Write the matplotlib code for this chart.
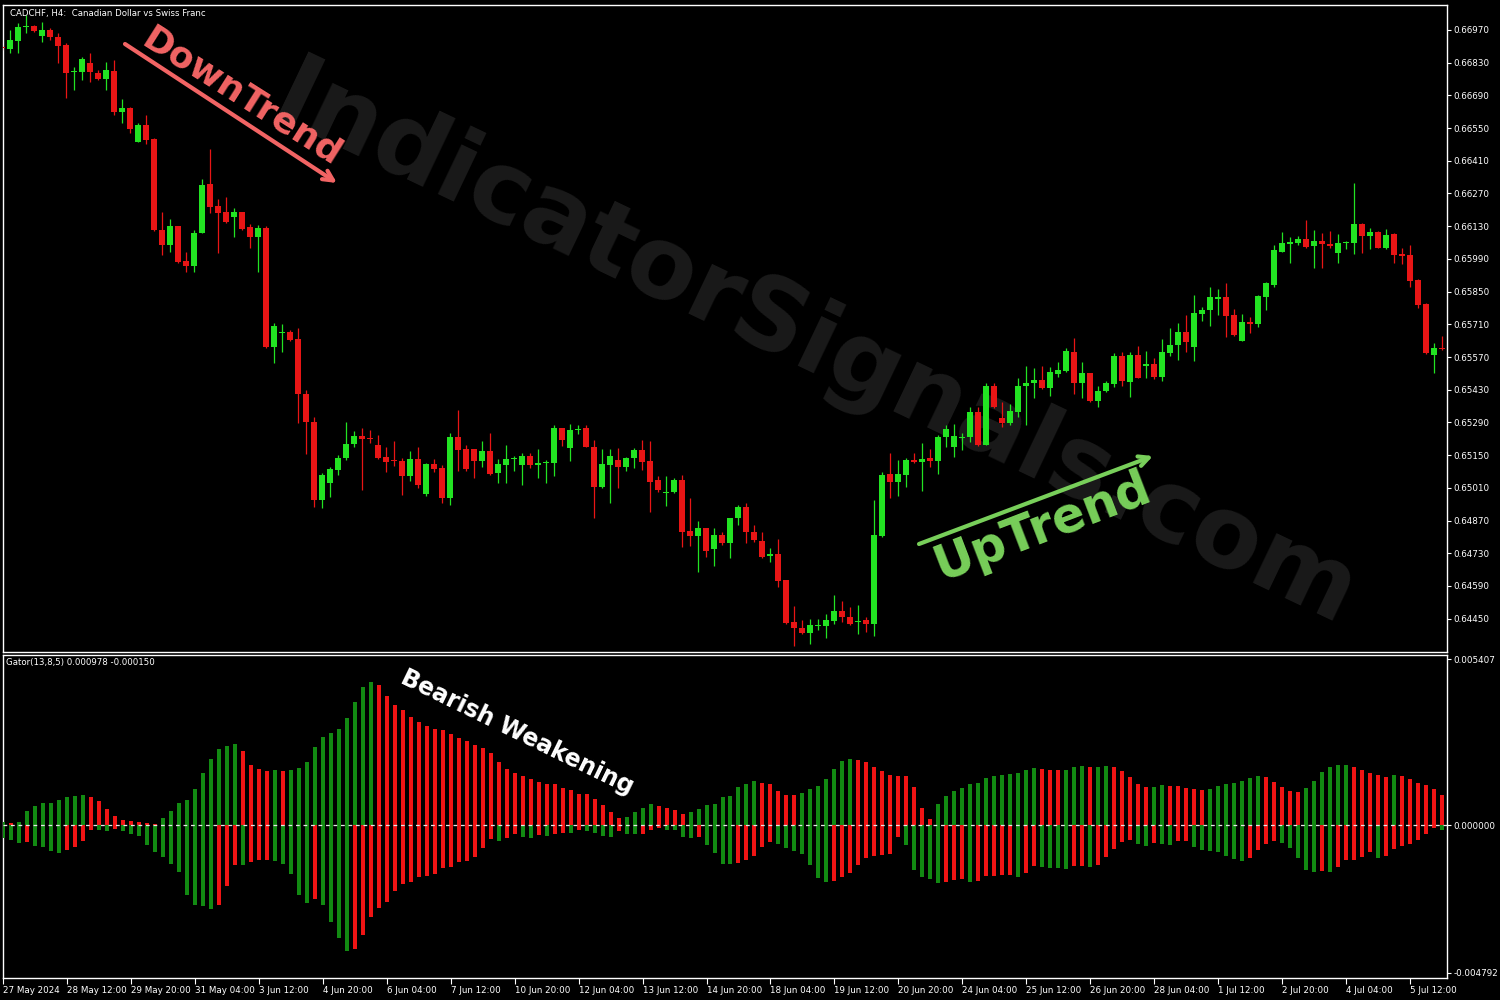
import matplotlib
matplotlib.use("Agg")
import matplotlib.pyplot as plt
import numpy as np

plt.rcParams['font.family'] = ['DejaVu Sans']

# ---------------- data ----------------
x_tick_labels = ['27 May 2024', '28 May 12:00', '29 May 20:00', '31 May 04:00', '3 Jun 12:00',
                 '4 Jun 20:00', '6 Jun 04:00', '7 Jun 12:00', '10 Jun 20:00', '12 Jun 04:00',
                 '13 Jun 12:00', '14 Jun 20:00', '18 Jun 04:00', '19 Jun 12:00', '20 Jun 20:00',
                 '24 Jun 04:00', '25 Jun 12:00', '26 Jun 20:00', '28 Jun 04:00', '1 Jul 12:00',
                 '2 Jul 20:00', '4 Jul 04:00', '5 Jul 12:00']
price_ticks = [0.66970, 0.66830, 0.66690, 0.66550, 0.66410, 0.66270, 0.66130, 0.65990, 0.65850,
               0.65710, 0.65570, 0.65430, 0.65290, 0.65150, 0.65010, 0.64870, 0.64730, 0.64590, 0.64450]
gator_ticks = [0.005407, 0.0, -0.004792]
gator_tick_labels = ['0.005407', '0.000000', '-0.004792']

opens = [0.66897,
 0.66888, 0.66923, 0.66982, 0.66987, 0.66944, 0.66970, 0.66940, 0.66905, 0.66790, 0.66790,
 0.66828, 0.66786, 0.66760, 0.66794, 0.66619, 0.66636, 0.66490, 0.66563, 0.66503, 0.66114,
 0.66049, 0.66131, 0.65981, 0.65960, 0.66101, 0.66310, 0.66216, 0.66191, 0.66169, 0.66191,
 0.66126, 0.66084, 0.66122, 0.65613, 0.65673, 0.65677, 0.65647, 0.65412, 0.65292, 0.64958,
 0.65031, 0.65086, 0.65138, 0.65198, 0.65232, 0.65223, 0.65193, 0.65142, 0.65129, 0.65125,
 0.65061, 0.65134, 0.64984, 0.65112, 0.65095, 0.64967, 0.65228, 0.65176, 0.65176, 0.65125,
 0.65168, 0.65074, 0.65108, 0.65134, 0.65108, 0.65146, 0.65108, 0.65116, 0.65116, 0.65266,
 0.65181, 0.65258, 0.65266, 0.65185, 0.65014, 0.65108, 0.65129, 0.65099, 0.65138, 0.65172,
 0.65125, 0.65044, 0.64988, 0.64992, 0.65044, 0.64825, 0.64804, 0.64838, 0.64748, 0.64808,
 0.64774, 0.64881, 0.64928, 0.64821, 0.64782, 0.64718, 0.64727, 0.64616, 0.64436, 0.64410,
 0.64389, 0.64419, 0.64419, 0.64440, 0.64483, 0.64457, 0.64436, 0.64444, 0.64427, 0.64804,
 0.65069, 0.65035, 0.65065, 0.65129, 0.65121, 0.65138, 0.65125, 0.65228, 0.65185, 0.65223,
 0.65228, 0.65335, 0.65193, 0.65446, 0.65309, 0.65288, 0.65335, 0.65446, 0.65459, 0.65472,
 0.65437, 0.65497, 0.65510, 0.65591, 0.65459, 0.65502, 0.65382, 0.65425, 0.65454, 0.65574,
 0.65463, 0.65579, 0.65532, 0.65540, 0.65484, 0.65587, 0.65621, 0.65677, 0.65613, 0.65754,
 0.65771, 0.65818, 0.65827, 0.65750, 0.65639, 0.65720, 0.65711, 0.65827, 0.65878, 0.66019,
 0.66054, 0.66058, 0.66075, 0.66045, 0.66067, 0.66054, 0.66015, 0.66058, 0.66058, 0.66139,
 0.66088, 0.66105, 0.66037, 0.66097, 0.66011, 0.66007, 0.65900, 0.65797, 0.65579, 0.65609]

highs = [0.66905,
 0.66970, 0.67000, 0.67034, 0.66991, 0.67004, 0.66978, 0.66957, 0.66914, 0.66811, 0.66854,
 0.66871, 0.66798, 0.66833, 0.66841, 0.66674, 0.66640, 0.66572, 0.66606, 0.66507, 0.66191,
 0.66161, 0.66131, 0.66019, 0.66114, 0.66332, 0.66460, 0.66246, 0.66255, 0.66208, 0.66191,
 0.66139, 0.66135, 0.66131, 0.65716, 0.65711, 0.65686, 0.65694, 0.65429, 0.65313, 0.65074,
 0.65099, 0.65151, 0.65292, 0.65253, 0.65266, 0.65258, 0.65236, 0.65185, 0.65211, 0.65138,
 0.65168, 0.65185, 0.65116, 0.65134, 0.65108, 0.65245, 0.65343, 0.65193, 0.65176, 0.65211,
 0.65245, 0.65134, 0.65193, 0.65146, 0.65159, 0.65159, 0.65176, 0.65129, 0.65279, 0.65266,
 0.65283, 0.65279, 0.65279, 0.65215, 0.65176, 0.65176, 0.65181, 0.65142, 0.65181, 0.65215,
 0.65211, 0.65061, 0.65061, 0.65052, 0.65065, 0.64967, 0.64868, 0.64838, 0.64838, 0.64821,
 0.64881, 0.64937, 0.64945, 0.64851, 0.64821, 0.64753, 0.64791, 0.64616, 0.64504, 0.64444,
 0.64449, 0.64449, 0.64470, 0.64551, 0.64526, 0.64500, 0.64509, 0.64457, 0.64958, 0.65078,
 0.65159, 0.65129, 0.65138, 0.65159, 0.65202, 0.65176, 0.65236, 0.65279, 0.65283, 0.65245,
 0.65356, 0.65356, 0.65459, 0.65459, 0.65377, 0.65369, 0.65480, 0.65532, 0.65523, 0.65532,
 0.65527, 0.65549, 0.65609, 0.65651, 0.65549, 0.65502, 0.65446, 0.65467, 0.65587, 0.65591,
 0.65591, 0.65617, 0.65596, 0.65566, 0.65647, 0.65694, 0.65716, 0.65750, 0.65835, 0.65784,
 0.65870, 0.65861, 0.65887, 0.65776, 0.65754, 0.65741, 0.65835, 0.65891, 0.66049, 0.66105,
 0.66084, 0.66088, 0.66156, 0.66114, 0.66101, 0.66109, 0.66097, 0.66067, 0.66315, 0.66144,
 0.66122, 0.66109, 0.66118, 0.66101, 0.66037, 0.66049, 0.65904, 0.65801, 0.65630, 0.65660]

lows = [0.66884,
 0.66871, 0.66871, 0.66957, 0.66961, 0.66918, 0.66927, 0.66828, 0.66679, 0.66713, 0.66756,
 0.66747, 0.66756, 0.66713, 0.66606, 0.66572, 0.66529, 0.66490, 0.66482, 0.66109, 0.66007,
 0.66019, 0.65972, 0.65934, 0.65934, 0.66101, 0.66186, 0.66015, 0.66144, 0.66084, 0.66114,
 0.66037, 0.65934, 0.65609, 0.65544, 0.65591, 0.65639, 0.65288, 0.65155, 0.64928, 0.64924,
 0.64971, 0.65065, 0.65129, 0.65185, 0.65001, 0.65202, 0.65134, 0.65078, 0.65104, 0.64979,
 0.65039, 0.65009, 0.64975, 0.65078, 0.64945, 0.64937, 0.65082, 0.65082, 0.65052, 0.65099,
 0.65065, 0.65031, 0.65031, 0.65082, 0.65022, 0.65095, 0.65052, 0.65031, 0.65061, 0.65189,
 0.65125, 0.65240, 0.65185, 0.64881, 0.65009, 0.64945, 0.65009, 0.65082, 0.65095, 0.65086,
 0.64907, 0.64992, 0.64932, 0.64988, 0.64757, 0.64761, 0.64650, 0.64714, 0.64676, 0.64765,
 0.64710, 0.64851, 0.64774, 0.64779, 0.64710, 0.64693, 0.64586, 0.64427, 0.64333, 0.64385,
 0.64342, 0.64402, 0.64367, 0.64427, 0.64436, 0.64423, 0.64385, 0.64393, 0.64376, 0.64800,
 0.64967, 0.64975, 0.65014, 0.65116, 0.64997, 0.65099, 0.65069, 0.65185, 0.65142, 0.65172,
 0.65206, 0.65189, 0.65193, 0.65352, 0.65270, 0.65279, 0.65313, 0.65279, 0.65395, 0.65433,
 0.65403, 0.65484, 0.65506, 0.65412, 0.65395, 0.65377, 0.65356, 0.65420, 0.65442, 0.65446,
 0.65399, 0.65480, 0.65480, 0.65476, 0.65467, 0.65574, 0.65557, 0.65591, 0.65553, 0.65724,
 0.65703, 0.65750, 0.65656, 0.65660, 0.65639, 0.65673, 0.65698, 0.65771, 0.65870, 0.66019,
 0.65972, 0.66049, 0.66037, 0.65951, 0.65951, 0.66037, 0.65972, 0.66032, 0.66011, 0.66015,
 0.66032, 0.66037, 0.66032, 0.65972, 0.65968, 0.65870, 0.65780, 0.65583, 0.65502, 0.65600]

closes = [0.66893,
 0.66927, 0.66982, 0.66987, 0.66965, 0.66970, 0.66940, 0.66901, 0.66786, 0.66794, 0.66846,
 0.66790, 0.66760, 0.66798, 0.66619, 0.66636, 0.66546, 0.66563, 0.66499, 0.66114, 0.66049,
 0.66131, 0.65977, 0.65960, 0.66101, 0.66306, 0.66212, 0.66186, 0.66148, 0.66191, 0.66118,
 0.66084, 0.66122, 0.65613, 0.65703, 0.65677, 0.65643, 0.65412, 0.65292, 0.64958, 0.65065,
 0.65091, 0.65138, 0.65198, 0.65232, 0.65219, 0.65219, 0.65138, 0.65121, 0.65125, 0.65061,
 0.65134, 0.65022, 0.65112, 0.65091, 0.64967, 0.65228, 0.65172, 0.65091, 0.65125, 0.65168,
 0.65069, 0.65112, 0.65134, 0.65138, 0.65146, 0.65108, 0.65116, 0.65121, 0.65266, 0.65215,
 0.65258, 0.65262, 0.65185, 0.65014, 0.65112, 0.65146, 0.65099, 0.65138, 0.65172, 0.65121,
 0.65035, 0.65001, 0.64992, 0.65044, 0.64821, 0.64804, 0.64838, 0.64740, 0.64808, 0.64774,
 0.64881, 0.64928, 0.64821, 0.64787, 0.64714, 0.64727, 0.64611, 0.64432, 0.64410, 0.64389,
 0.64423, 0.64423, 0.64444, 0.64483, 0.64457, 0.64427, 0.64440, 0.64427, 0.64808, 0.65065,
 0.65035, 0.65069, 0.65129, 0.65121, 0.65134, 0.65125, 0.65228, 0.65262, 0.65232, 0.65228,
 0.65335, 0.65193, 0.65446, 0.65356, 0.65288, 0.65339, 0.65446, 0.65459, 0.65472, 0.65437,
 0.65506, 0.65514, 0.65596, 0.65459, 0.65502, 0.65382, 0.65425, 0.65459, 0.65574, 0.65467,
 0.65579, 0.65480, 0.65540, 0.65484, 0.65591, 0.65621, 0.65677, 0.65634, 0.65758, 0.65771,
 0.65827, 0.65827, 0.65746, 0.65664, 0.65720, 0.65711, 0.65831, 0.65887, 0.66028, 0.66058,
 0.66062, 0.66075, 0.66041, 0.66067, 0.66054, 0.66045, 0.66058, 0.66062, 0.66139, 0.66088,
 0.66105, 0.66037, 0.66092, 0.66007, 0.66002, 0.65895, 0.65793, 0.65587, 0.65609, 0.65604]

gator_upper = [0.000114,
 0.000065, 0.000120, 0.000478, 0.000618, 0.000715, 0.000725, 0.000813, 0.000910, 0.000969, 0.000975,
 0.000910, 0.000787, 0.000520, 0.000299, 0.000163, 0.000130, 0.000124, 0.000065, 0.000055, 0.000250,
 0.000481, 0.000715, 0.000813, 0.001170, 0.001716, 0.002168, 0.002470, 0.002587, 0.002655, 0.002405,
 0.001950, 0.001820, 0.001755, 0.001804, 0.001762, 0.001797, 0.001853, 0.002070, 0.002558, 0.002883,
 0.003013, 0.003143, 0.003500, 0.004020, 0.004508, 0.004670, 0.004550, 0.004193, 0.003900, 0.003738,
 0.003510, 0.003357, 0.003227, 0.003130, 0.003088, 0.002958, 0.002850, 0.002740, 0.002600, 0.002503,
 0.002340, 0.002057, 0.001820, 0.001713, 0.001602, 0.001495, 0.001407, 0.001355, 0.001333, 0.001225,
 0.001147, 0.001030, 0.001008, 0.000868, 0.000650, 0.000423, 0.000228, 0.000276, 0.000445, 0.000553,
 0.000705, 0.000627, 0.000553, 0.000510, 0.000358, 0.000423, 0.000520, 0.000650, 0.000683, 0.000910,
 0.000959, 0.001235, 0.001333, 0.001430, 0.001365, 0.001333, 0.001105, 0.000998, 0.000975, 0.001040,
 0.001170, 0.001268, 0.001495, 0.001820, 0.002080, 0.002145, 0.002113, 0.002048, 0.001885, 0.001755,
 0.001625, 0.001609, 0.001593, 0.001235, 0.000553, 0.000195, 0.000683, 0.000943, 0.001105, 0.001203,
 0.001333, 0.001365, 0.001528, 0.001593, 0.001625, 0.001658, 0.001690, 0.001788, 0.001853, 0.001846,
 0.001804, 0.001788, 0.001804, 0.001885, 0.001918, 0.001885, 0.001901, 0.001918, 0.001911, 0.001755,
 0.001560, 0.001333, 0.001235, 0.001251, 0.001300, 0.001284, 0.001268, 0.001203, 0.001170, 0.001138,
 0.001170, 0.001268, 0.001333, 0.001365, 0.001430, 0.001528, 0.001593, 0.001560, 0.001398, 0.001235,
 0.001105, 0.001095, 0.001203, 0.001430, 0.001723, 0.001885, 0.001950, 0.001960, 0.001885, 0.001788,
 0.001690, 0.001625, 0.001560, 0.001625, 0.001593, 0.001518, 0.001365, 0.001300, 0.001170, 0.000978]

gator_lower = [-0.000423,
 -0.000465, -0.000575, -0.000530, -0.000683, -0.000705, -0.000835, -0.000900, -0.000803, -0.000705, -0.000510,
 -0.000146, -0.000163, -0.000185, -0.000130, -0.000185, -0.000270, -0.000358, -0.000640, -0.000868, -0.001030,
 -0.001245, -0.001528, -0.002265, -0.002590, -0.002600, -0.002698, -0.002590, -0.001973, -0.001290, -0.001300,
 -0.001203, -0.001138, -0.001121, -0.001160, -0.001268, -0.001570, -0.002265, -0.002525, -0.002373, -0.002590,
 -0.003130, -0.003650, -0.004063, -0.003998, -0.003543, -0.002980, -0.002675, -0.002480, -0.002113, -0.001895,
 -0.001830, -0.001680, -0.001648, -0.001570, -0.001375, -0.001355, -0.001203, -0.001160, -0.001030, -0.000748,
 -0.000455, -0.000510, -0.000400, -0.000293, -0.000380, -0.000423, -0.000325, -0.000332, -0.000293, -0.000237,
 -0.000250, -0.000153, -0.000185, -0.000250, -0.000348, -0.000380, -0.000185, -0.000270, -0.000293, -0.000286,
 -0.000153, -0.000098, -0.000153, -0.000163, -0.000380, -0.000423, -0.000390, -0.000640, -0.000887, -0.001245,
 -0.001268, -0.001225, -0.001138, -0.000998, -0.000705, -0.000543, -0.000608, -0.000738, -0.000835, -0.000933,
 -0.001290, -0.001713, -0.001843, -0.001810, -0.001680, -0.001550, -0.001290, -0.001063, -0.000998, -0.000965,
 -0.000933, -0.000380, -0.000640, -0.001453, -0.001680, -0.001745, -0.001875, -0.001843, -0.001778, -0.001745,
 -0.001843, -0.001810, -0.001648, -0.001635, -0.001625, -0.001619, -0.001680, -0.001550, -0.001323, -0.001355,
 -0.001388, -0.001398, -0.001420, -0.001323, -0.001316, -0.001355, -0.001290, -0.001030, -0.000770, -0.000530,
 -0.000478, -0.000608, -0.000673, -0.000575, -0.000608, -0.000640, -0.000510, -0.000504, -0.000705, -0.000803,
 -0.000835, -0.000868, -0.000998, -0.001082, -0.001160, -0.001063, -0.000803, -0.000608, -0.000510, -0.000575,
 -0.000738, -0.001063, -0.001453, -0.001518, -0.001485, -0.001528, -0.001355, -0.001128, -0.001121, -0.001030,
 -0.000868, -0.001063, -0.000998, -0.000770, -0.000673, -0.000608, -0.000478, -0.000283, -0.000088, -0.000150]

# ---------------- style ----------------
BG = 'black'
CANDLE_UP = '#22e322'
CANDLE_DN = '#e81515'
GATOR_UP = '#128a12'
GATOR_DN = '#f01414'
W, H = 1500, 1000

def fp(px, py):
    return (px / W, 1 - py / H)

fig = plt.figure(figsize=(15, 10), dpi=100, facecolor=BG)
ax1 = fig.add_axes([3 / W, 1 - 652 / H, 1444 / W, 647 / H], facecolor=BG)
ax2 = fig.add_axes([3 / W, 1 - 978 / H, 1444 / W, 323 / H], facecolor=BG)

n = len(opens)
xs = np.arange(n) - 1
o = np.array(opens); h = np.array(highs); l = np.array(lows); c = np.array(closes)
is_up = c >= o
ccol = np.where(is_up, CANDLE_UP, CANDLE_DN)

ax1.vlines(xs, l, h, colors=ccol, linewidth=0.9, zorder=3)
bottom = np.minimum(o, c)
height = np.maximum(np.abs(c - o), 0.00004)
ax1.bar(xs, height, bottom=bottom, width=0.66, color=ccol, linewidth=0, zorder=4)

ax1.set_xlim(-0.875, 179.625)
ax1.set_ylim(0.643074, 0.670766)
ax1.yaxis.tick_right()
ax1.set_yticks(price_ticks)
ax1.set_yticklabels(['%.5f' % v for v in price_ticks])
ax1.tick_params(axis='y', colors='white', labelsize=6.3, length=3, width=0.8, pad=1.5, direction='out')
ax1.set_xticks([])
for s in ax1.spines.values():
    s.set_color('white'); s.set_linewidth(1)

# ---------------- gator ----------------
gu = np.array(gator_upper); gd = np.array(gator_lower)
cu = [GATOR_UP if (i == 0 or gu[i] > gu[i - 1]) else GATOR_DN for i in range(n)]
cd = [GATOR_UP if (i == 0 or abs(gd[i]) > abs(gd[i - 1])) else GATOR_DN for i in range(n)]
ax2.bar(xs, gu, width=0.5, color=cu, linewidth=0, zorder=3)
ax2.bar(xs, gd, width=0.5, color=cd, linewidth=0, zorder=3)
ax2.axhline(0, color='#e8e8e8', linewidth=0.9, dashes=(3, 3), zorder=4)
ax2.set_xlim(-0.875, 179.625)
ax2.set_ylim(-0.004955, 0.005537)
ax2.yaxis.tick_right()
ax2.set_yticks(gator_ticks)
ax2.set_yticklabels(gator_tick_labels)
ax2.tick_params(axis='y', colors='white', labelsize=6.3, length=3, width=0.8, pad=1.5, direction='out')
tick_pos = [-1 + 8 * k for k in range(len(x_tick_labels))]
ax2.set_xticks(tick_pos)
ax2.set_xticklabels(x_tick_labels)
ax2.tick_params(axis='x', colors='white', labelsize=6.3, length=4, width=0.8, pad=2, direction='out')
for lab in ax2.get_xticklabels():
    lab.set_horizontalalignment('left')
for s in ax2.spines.values():
    s.set_color('white'); s.set_linewidth(1)

# ---------------- texts ----------------
ax1.text(7 / 1444, 1 - 4 / 647, 'CADCHF, H4:  Canadian Dollar vs Swiss Franc', transform=ax1.transAxes,
         color='white', fontsize=6.2, ha='left', va='top', zorder=6)
ax2.text(3 / 1444, 1 - 3 / 323, 'Gator(13,8,5) 0.000978 -0.000150', transform=ax2.transAxes,
         color='white', fontsize=6.2, ha='left', va='top', zorder=6)

# watermark
ax1.text(*fp(815, 348), 'IndicatorSignals.com', transform=fig.transFigure, rotation=-25.5,
         rotation_mode='anchor', ha='center', va='center', fontsize=72, fontweight='bold',
         color='#1a1a1a', zorder=1)

# DownTrend
ax1.text(*fp(242, 97), 'DownTrend', transform=fig.transFigure, rotation=-32.3,
         rotation_mode='anchor', ha='center', va='center', fontsize=26, fontweight='bold',
         color='#f26464', zorder=6)
ax1.annotate('', xy=fp(337, 183), xytext=fp(125, 44), xycoords='figure fraction',
             textcoords='figure fraction',
             arrowprops=dict(arrowstyle='->', color='#f26464', lw=3, mutation_scale=18,
                             shrinkA=0, shrinkB=0), zorder=6)

# UpTrend
ax1.text(*fp(1043, 527), 'UpTrend', transform=fig.transFigure, rotation=21,
         rotation_mode='anchor', ha='center', va='center', fontsize=35, fontweight='bold',
         color='#78cf5a', zorder=6)
ax1.annotate('', xy=fp(1153, 456), xytext=fp(919, 544), xycoords='figure fraction',
             textcoords='figure fraction',
             arrowprops=dict(arrowstyle='->', color='#78cf5a', lw=3, mutation_scale=18,
                             shrinkA=0, shrinkB=0), zorder=6)

# Bearish Weakening
ax2.text(*fp(517, 732), 'Bearish Weakening', transform=fig.transFigure, rotation=-26,
         rotation_mode='anchor', ha='center', va='center', fontsize=17, fontweight='bold',
         color='white', zorder=6)

fig.savefig('out.png', dpi=100, facecolor=BG)
